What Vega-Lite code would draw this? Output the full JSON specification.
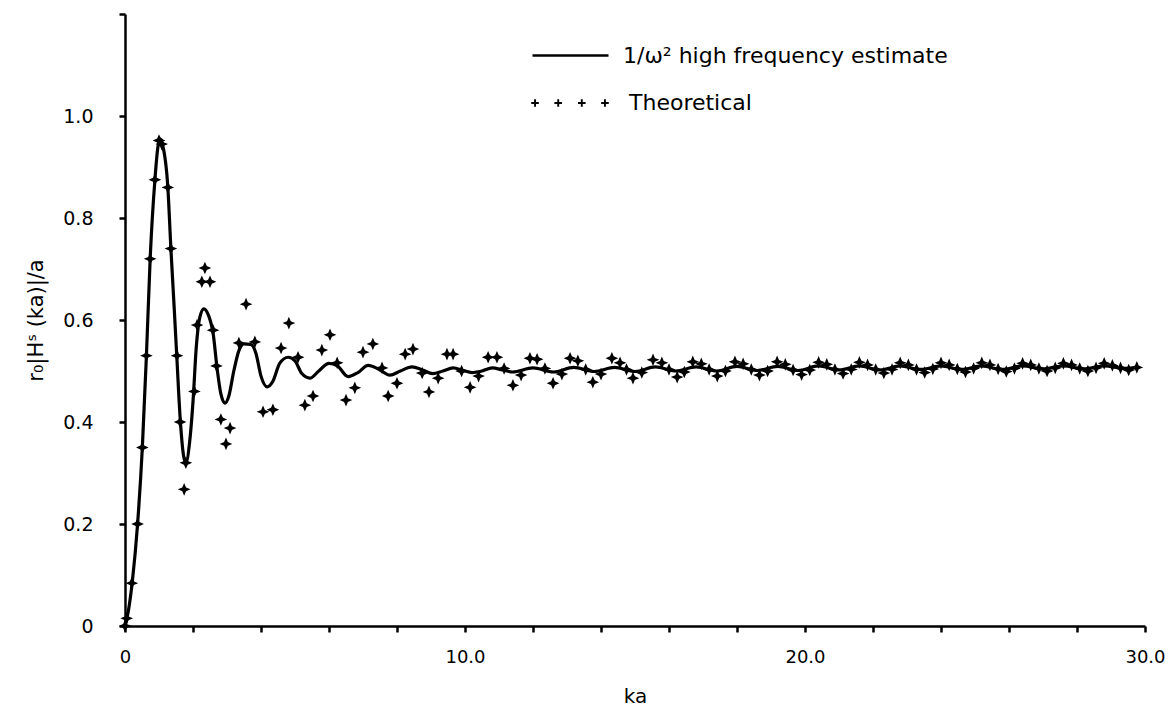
{
  "$schema": "https://vega.github.io/schema/vega-lite/v6.json",
  "autosize": {"type": "none"},
  "width": 1020,
  "height": 612,
  "padding": {"left": 125, "top": 14, "right": 24, "bottom": 86},
  "background": "white",
  "config": {
    "font": "DejaVu Sans",
    "view": {"stroke": null},
    "axis": {"grid": false, "domainColor": "black", "domainWidth": 2.5, "tickColor": "black", "tickWidth": 2.5, "tickSize": 6, "labelColor": "black", "titleColor": "black", "labelFont": "DejaVu Sans", "titleFont": "DejaVu Sans", "titleFontWeight": "normal"}
  },
  "datasets": {
    "estimate": [
      {"ka": 0, "value": 0}, {"ka": 0.1, "value": 0.03}, {"ka": 0.22, "value": 0.09}, {"ka": 0.37, "value": 0.2},
      {"ka": 0.51, "value": 0.35}, {"ka": 0.63, "value": 0.53}, {"ka": 0.74, "value": 0.72}, {"ka": 0.88, "value": 0.875},
      {"ka": 0.97, "value": 0.94}, {"ka": 1.03, "value": 0.955}, {"ka": 1.1, "value": 0.945}, {"ka": 1.26, "value": 0.86},
      {"ka": 1.35, "value": 0.74}, {"ka": 1.45, "value": 0.62}, {"ka": 1.53, "value": 0.52}, {"ka": 1.62, "value": 0.41},
      {"ka": 1.72, "value": 0.335}, {"ka": 1.79, "value": 0.32}, {"ka": 1.9, "value": 0.36}, {"ka": 2.0, "value": 0.44},
      {"ka": 2.1, "value": 0.55}, {"ka": 2.2, "value": 0.605}, {"ka": 2.32, "value": 0.622}, {"ka": 2.45, "value": 0.61},
      {"ka": 2.6, "value": 0.57}, {"ka": 2.7, "value": 0.51}, {"ka": 2.82, "value": 0.455}, {"ka": 2.94, "value": 0.437},
      {"ka": 3.05, "value": 0.45}, {"ka": 3.2, "value": 0.5}, {"ka": 3.35, "value": 0.54}, {"ka": 3.5, "value": 0.553},
      {"ka": 3.7, "value": 0.552}, {"ka": 3.85, "value": 0.535}, {"ka": 4.0, "value": 0.49}, {"ka": 4.18, "value": 0.469},
      {"ka": 4.35, "value": 0.48}, {"ka": 4.55, "value": 0.515}, {"ka": 4.8, "value": 0.527}, {"ka": 5.0, "value": 0.52},
      {"ka": 5.2, "value": 0.495}, {"ka": 5.44, "value": 0.486}, {"ka": 5.7, "value": 0.5}, {"ka": 6.0, "value": 0.515},
      {"ka": 6.25, "value": 0.51}, {"ka": 6.56, "value": 0.489}, {"ka": 6.85, "value": 0.497}, {"ka": 7.15, "value": 0.511},
      {"ka": 7.45, "value": 0.504}, {"ka": 7.79, "value": 0.492}, {"ka": 8.1, "value": 0.5}, {"ka": 8.44, "value": 0.508},
      {"ka": 8.75, "value": 0.502}, {"ka": 9.05, "value": 0.495}, {"ka": 9.35, "value": 0.5}, {"ka": 9.65, "value": 0.506},
      {"ka": 9.95, "value": 0.501}, {"ka": 10.2, "value": 0.497}, {"ka": 10.5, "value": 0.5}, {"ka": 10.8, "value": 0.506},
      {"ka": 11.1, "value": 0.502}, {"ka": 11.4, "value": 0.498}, {"ka": 12.0, "value": 0.506}, {"ka": 12.6, "value": 0.498},
      {"ka": 13.2, "value": 0.507}, {"ka": 13.8, "value": 0.499}, {"ka": 14.4, "value": 0.507}, {"ka": 15.0, "value": 0.499},
      {"ka": 15.6, "value": 0.508}, {"ka": 16.2, "value": 0.5}, {"ka": 16.8, "value": 0.508}, {"ka": 17.4, "value": 0.5},
      {"ka": 18.0, "value": 0.509}, {"ka": 18.6, "value": 0.501}, {"ka": 19.2, "value": 0.509}, {"ka": 19.8, "value": 0.501},
      {"ka": 20.4, "value": 0.51}, {"ka": 21.0, "value": 0.502}, {"ka": 21.6, "value": 0.51}, {"ka": 22.2, "value": 0.502},
      {"ka": 22.8, "value": 0.51}, {"ka": 23.4, "value": 0.503}, {"ka": 24.0, "value": 0.51}, {"ka": 24.6, "value": 0.503},
      {"ka": 25.2, "value": 0.51}, {"ka": 25.8, "value": 0.503}, {"ka": 26.4, "value": 0.51}, {"ka": 27.0, "value": 0.504},
      {"ka": 27.6, "value": 0.51}, {"ka": 28.2, "value": 0.504}, {"ka": 28.8, "value": 0.51}, {"ka": 29.4, "value": 0.505},
      {"ka": 29.8, "value": 0.507}
    ],
    "theoretical": [
      {"ka": 0, "value": 0}, {"ka": 0.05, "value": 0.015}, {"ka": 0.2, "value": 0.084}, {"ka": 0.37, "value": 0.2},
      {"ka": 0.51, "value": 0.35}, {"ka": 0.63, "value": 0.53}, {"ka": 0.74, "value": 0.72}, {"ka": 0.88, "value": 0.875},
      {"ka": 1.0, "value": 0.952}, {"ka": 1.08, "value": 0.945}, {"ka": 1.26, "value": 0.86}, {"ka": 1.35, "value": 0.74},
      {"ka": 1.53, "value": 0.53}, {"ka": 1.62, "value": 0.4}, {"ka": 1.74, "value": 0.268}, {"ka": 1.79, "value": 0.32},
      {"ka": 2.04, "value": 0.46}, {"ka": 2.12, "value": 0.59}, {"ka": 2.26, "value": 0.675}, {"ka": 2.35, "value": 0.702},
      {"ka": 2.5, "value": 0.675}, {"ka": 2.59, "value": 0.58}, {"ka": 2.69, "value": 0.51}, {"ka": 2.82, "value": 0.405},
      {"ka": 2.97, "value": 0.357}, {"ka": 3.09, "value": 0.388}, {"ka": 3.35, "value": 0.555}, {"ka": 3.56, "value": 0.631},
      {"ka": 3.82, "value": 0.557}, {"ka": 4.06, "value": 0.42}, {"ka": 4.35, "value": 0.424}, {"ka": 4.59, "value": 0.545},
      {"ka": 4.82, "value": 0.594}, {"ka": 5.09, "value": 0.527}, {"ka": 5.29, "value": 0.433}, {"ka": 5.53, "value": 0.451},
      {"ka": 5.79, "value": 0.541}, {"ka": 6.03, "value": 0.571}, {"ka": 6.24, "value": 0.516}, {"ka": 6.5, "value": 0.443},
      {"ka": 6.76, "value": 0.467}, {"ka": 7.0, "value": 0.537}, {"ka": 7.29, "value": 0.553}, {"ka": 7.56, "value": 0.506},
      {"ka": 7.74, "value": 0.451}, {"ka": 8.0, "value": 0.476}, {"ka": 8.24, "value": 0.533}, {"ka": 8.47, "value": 0.543},
      {"ka": 8.74, "value": 0.496}, {"ka": 8.94, "value": 0.459}, {"ka": 9.21, "value": 0.486}, {"ka": 9.47, "value": 0.533},
      {"ka": 9.65, "value": 0.533}, {"ka": 9.9, "value": 0.5}, {"ka": 10.15, "value": 0.468}, {"ka": 10.4, "value": 0.49},
      {"ka": 10.68, "value": 0.527}, {"ka": 10.94, "value": 0.527}, {"ka": 11.15, "value": 0.505}, {"ka": 11.41, "value": 0.472},
      {"ka": 11.65, "value": 0.492}, {"ka": 11.91, "value": 0.525}, {"ka": 12.12, "value": 0.523}, {"ka": 12.35, "value": 0.505},
      {"ka": 12.59, "value": 0.476}, {"ka": 12.85, "value": 0.494}, {"ka": 13.09, "value": 0.525}, {"ka": 13.32, "value": 0.52},
      {"ka": 13.55, "value": 0.503}, {"ka": 13.76, "value": 0.478}, {"ka": 14.0, "value": 0.494}, {"ka": 14.32, "value": 0.525},
      {"ka": 14.56, "value": 0.516}, {"ka": 14.75, "value": 0.503}, {"ka": 14.94, "value": 0.486}, {"ka": 15.2, "value": 0.497},
      {"ka": 15.53, "value": 0.522}, {"ka": 15.79, "value": 0.516}, {"ka": 16.0, "value": 0.503}, {"ka": 16.24, "value": 0.488},
      {"ka": 16.45, "value": 0.498}, {"ka": 16.7, "value": 0.518}, {"ka": 16.95, "value": 0.514}, {"ka": 17.18, "value": 0.503},
      {"ka": 17.42, "value": 0.49}, {"ka": 17.66, "value": 0.5}, {"ka": 17.94, "value": 0.518}, {"ka": 18.18, "value": 0.514},
      {"ka": 18.42, "value": 0.503}, {"ka": 18.66, "value": 0.492}, {"ka": 18.9, "value": 0.5}, {"ka": 19.18, "value": 0.518},
      {"ka": 19.42, "value": 0.513}, {"ka": 19.65, "value": 0.502}, {"ka": 19.9, "value": 0.493}, {"ka": 20.14, "value": 0.502},
      {"ka": 20.4, "value": 0.517}, {"ka": 20.64, "value": 0.513}, {"ka": 20.88, "value": 0.503}, {"ka": 21.12, "value": 0.495},
      {"ka": 21.36, "value": 0.503}, {"ka": 21.6, "value": 0.517}, {"ka": 21.84, "value": 0.512}, {"ka": 22.08, "value": 0.503},
      {"ka": 22.32, "value": 0.496}, {"ka": 22.56, "value": 0.503}, {"ka": 22.8, "value": 0.516}, {"ka": 23.04, "value": 0.512},
      {"ka": 23.28, "value": 0.503}, {"ka": 23.52, "value": 0.497}, {"ka": 23.76, "value": 0.504}, {"ka": 24.0, "value": 0.516},
      {"ka": 24.24, "value": 0.512}, {"ka": 24.48, "value": 0.504}, {"ka": 24.72, "value": 0.498}, {"ka": 24.96, "value": 0.505},
      {"ka": 25.2, "value": 0.516}, {"ka": 25.44, "value": 0.512}, {"ka": 25.68, "value": 0.504}, {"ka": 25.92, "value": 0.499},
      {"ka": 26.16, "value": 0.505}, {"ka": 26.4, "value": 0.515}, {"ka": 26.64, "value": 0.512}, {"ka": 26.88, "value": 0.505},
      {"ka": 27.12, "value": 0.5}, {"ka": 27.36, "value": 0.506}, {"ka": 27.6, "value": 0.515}, {"ka": 27.84, "value": 0.512},
      {"ka": 28.08, "value": 0.505}, {"ka": 28.32, "value": 0.5}, {"ka": 28.56, "value": 0.506}, {"ka": 28.8, "value": 0.515},
      {"ka": 29.04, "value": 0.511}, {"ka": 29.28, "value": 0.506}, {"ka": 29.52, "value": 0.502}, {"ka": 29.76, "value": 0.507}
    ]
  },
  "encoding": {
    "x": {
      "field": "ka", "type": "quantitative",
      "scale": {"domain": [0, 30], "nice": false, "zero": false},
      "axis": {"title": "ka", "values": [0, 2, 4, 6, 8, 10, 12, 14, 16, 18, 20, 22, 24, 26, 28, 30],
        "labelExpr": "datum.value == 0 ? '0' : (datum.value % 10 == 0 ? format(datum.value, '.1f') : '')",
        "labelFontSize": 18, "labelPadding": 16, "labelFlush": false, "labelOverlap": false, "titleFontSize": 20, "titlePadding": 20}
    },
    "y": {
      "field": "value", "type": "quantitative",
      "scale": {"domain": [0, 1.2], "nice": false, "zero": false},
      "axis": {"title": "r₀|Hˢ (ka)|/a", "values": [0, 0.2, 0.4, 0.6, 0.8, 1.0, 1.2],
        "labelExpr": "datum.value == 0 ? '0' : (datum.value > 1.1 ? '' : format(datum.value, '.1f'))",
        "labelFontSize": 19, "labelPadding": 26, "labelFlush": false, "labelOverlap": false, "titleFontSize": 21, "titlePadding": 16}
    }
  },
  "layer": [
    {
      "data": {"name": "estimate"},
      "mark": {"type": "line", "interpolate": "monotone", "strokeWidth": 3.2},
      "encoding": {
        "stroke": {"datum": "1/ω² high frequency  estimate", "type": "nominal", "scale": {"range": ["black"]},
          "legend": {"orient": "none", "legendX": 406, "legendY": 2, "title": null, "padding": 0, "symbolType": "stroke", "symbolSize": 5776, "symbolStrokeWidth": 2.5, "labelFontSize": 22, "labelColor": "black", "labelOffset": 13, "labelLimit": 600}}
      }
    },
    {
      "data": {"name": "theoretical"},
      "mark": {"type": "point", "filled": true, "size": 160, "color": "black", "shape": "M0,-1L0.3,-0.3L1,0L0.3,0.3L0,1L-0.3,0.3L-1,0L-0.3,-0.3Z"},
      "encoding": {
        "opacity": {"datum": "Theoretical", "type": "nominal", "scale": {"range": [1]},
          "legend": {"orient": "none", "legendX": 406, "legendY": 50, "title": null, "padding": 0, "symbolSize": 5776, "symbolFillColor": "black", "symbolOpacity": 1, "labelFontSize": 22, "labelColor": "black", "labelOffset": 20, "labelLimit": 600,
            "symbolType": "M-1.02,-0.025L-0.945,-0.025L-0.945,-0.1L-0.895,-0.1L-0.895,-0.025L-0.82,-0.025L-0.82,0.025L-0.895,0.025L-0.895,0.1L-0.945,0.1L-0.945,0.025L-1.02,0.025ZM-0.41,-0.025L-0.335,-0.025L-0.335,-0.1L-0.285,-0.1L-0.285,-0.025L-0.21,-0.025L-0.21,0.025L-0.285,0.025L-0.285,0.1L-0.335,0.1L-0.335,0.025L-0.41,0.025ZM0.21,-0.025L0.285,-0.025L0.285,-0.1L0.335,-0.1L0.335,-0.025L0.41,-0.025L0.41,0.025L0.335,0.025L0.335,0.1L0.285,0.1L0.285,0.025L0.21,0.025ZM0.82,-0.025L0.895,-0.025L0.895,-0.1L0.945,-0.1L0.945,-0.025L1.02,-0.025L1.02,0.025L0.945,0.025L0.945,0.1L0.895,0.1L0.895,0.025L0.82,0.025Z"}}
      }
    }
  ]
}
